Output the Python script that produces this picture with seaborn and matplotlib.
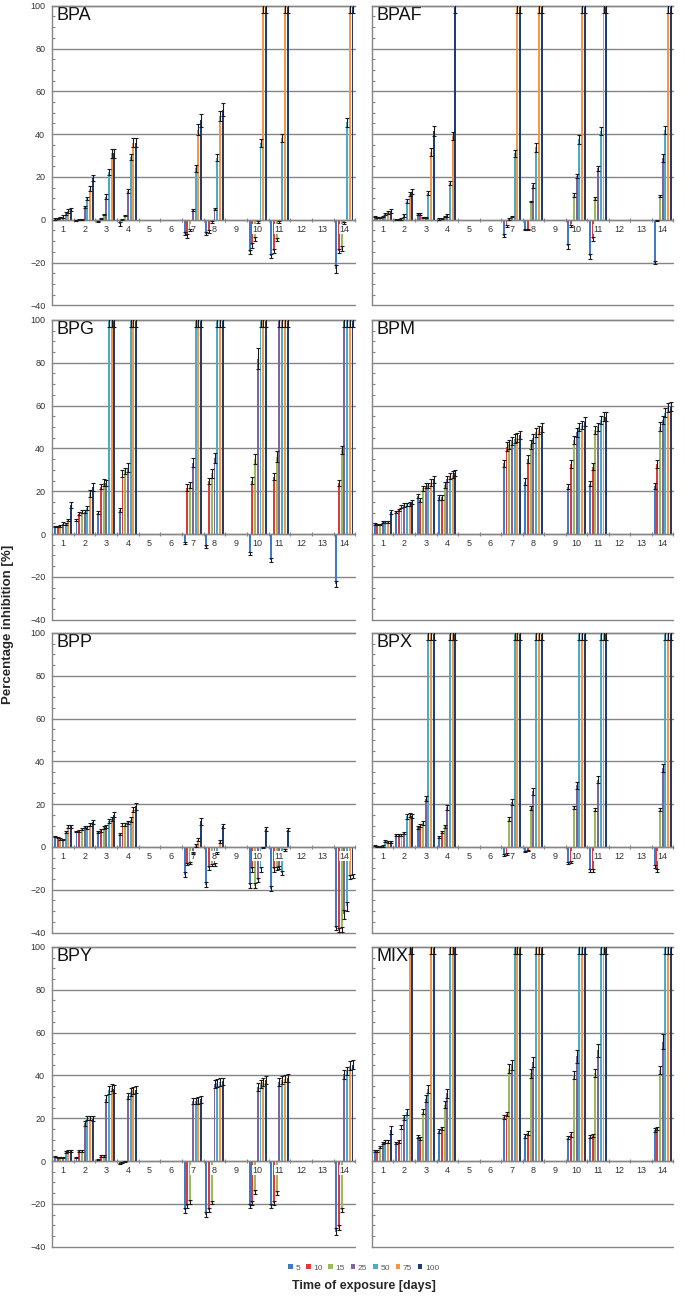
import numpy as np
import pandas as pd
import matplotlib
matplotlib.use("Agg")
import matplotlib.pyplot as plt
import seaborn as sns
from matplotlib.ticker import MultipleLocator, FixedLocator
from matplotlib.patches import Patch
from matplotlib.container import BarContainer

# ---------------- data ----------------
DAYS = [1, 2, 3, 4, 7, 8, 10, 11, 14]
ALL_DAYS = list(range(1, 15))
CONCS = ["5", "10", "15", "25", "50", "75", "100"]
COLORS = ["#3F7ACB", "#DE3A36", "#9BBB59", "#8064A2", "#4BACC6", "#F79646", "#1F3C74"]

BPA = [
    [0.3, 0.5, 1.0, 1.5, 3.0, 4.0, 4.8],
    [-0.5, 0.0, 0.2, 6.0, 10.0, 14.5, 19.5],
    [-0.8, 0.5, 2.5, 10.8, 22.3, 31.0, 31.0],
    [-2.0, 0.2, 2.0, 13.3, 29.2, 36.0, 36.0],
    [-6.5, -7.5, -5.0, 4.7, 24.0, 42.0, 46.5],
    [-6.5, -5.5, -1.0, 5.0, 29.0, 48.5, 51.5],
    [-15.0, -12.0, -9.0, -1.0, 35.8, 100, 100],
    [-17.0, -14.5, -9.3, -1.0, 38.2, 100, 100],
    [-23.0, -14.5, -13.5, -1.5, 45.5, 100, 100],
]
BPA_ERR = [
    [0.3, 0.3, 0.4, 0.5, 0.6, 0.8, 0.8],
    [0.3, 0.2, 0.2, 0.5, 0.8, 1.2, 1.5],
    [0.4, 0.3, 0.4, 1.0, 1.2, 2.0, 2.0],
    [0.8, 0.3, 0.4, 1.0, 1.5, 2.0, 2.0],
    [0.8, 1.0, 0.5, 0.4, 1.5, 2.5, 3.0],
    [0.6, 0.5, 0.3, 0.5, 1.5, 2.5, 3.0],
    [1.0, 1.0, 0.8, 0.3, 2.0, 3.5, 3.5],
    [1.0, 1.0, 0.8, 0.3, 2.0, 3.5, 3.5],
    [2.0, 1.0, 1.0, 0.3, 2.0, 3.5, 3.5],
]

BPAF = [
    [1.5, 1.0, 1.0, 1.5, 2.5, 3.5, 4.0],
    [0.0, 0.0, 0.3, 2.0, 8.8, 12.0, 13.0],
    [2.8, 2.8, 1.0, 1.0, 12.5, 31.8, 41.5],
    [0.4, 0.7, 1.5, 2.0, 17.0, 39.0, 100],
    [-7.5, -3.0, 0.5, 1.5, 31.0, 100, 100],
    [-4.5, -4.5, 8.5, 16.0, 33.8, 100, 100],
    [-12.5, -3.0, 11.5, 20.5, 37.5, 100, 100],
    [-17.0, -9.0, 10.0, 24.0, 41.5, 100, 100],
    [-20.0, -0.5, 11.0, 29.0, 42.0, 100, 100],
]
BPAF_ERR = [
    [0.4, 0.3, 0.3, 0.4, 0.5, 0.8, 0.8],
    [0.2, 0.2, 0.3, 0.5, 0.8, 1.0, 1.2],
    [0.5, 0.5, 0.4, 0.4, 0.8, 1.8, 2.2],
    [0.3, 0.3, 0.4, 0.5, 1.0, 1.8, 3.5],
    [0.8, 0.6, 0.4, 0.4, 1.5, 3.5, 3.5],
    [0.4, 0.4, 0.4, 1.0, 2.0, 3.5, 3.5],
    [1.0, 0.6, 0.8, 1.0, 2.2, 3.5, 3.5],
    [1.2, 0.8, 0.6, 1.0, 2.0, 3.5, 3.5],
    [0.8, 0.3, 0.6, 1.8, 2.0, 3.5, 3.5],
]

BPG = [
    [3.5, 3.5, 3.8, 4.8, 4.8, 6.5, 13.5],
    [6.5, 9.5, 10.5, 10.5, 12.0, 19.0, 22.0],
    [10.0, 22.0, 24.0, 23.7, 100, 100, 100],
    [11.3, 28.3, 29.4, 31.0, 100, 100, 100],
    [-4.4, 21.7, 22.9, 33.3, 100, 100, 100],
    [-5.9, 24.8, 28.3, 35.5, 100, 100, 100],
    [-9.0, 25.0, 35.0, 82.0, 100, 100, 100],
    [-12.1, 26.8, 36.1, 100, 100, 100, 100],
    [-23.4, 23.7, 39.3, 100, 100, 100, 100],
]
BPG_ERR = [
    [0.4, 0.4, 0.4, 0.6, 0.5, 0.6, 1.5],
    [0.5, 0.8, 0.8, 0.8, 1.0, 1.5, 2.0],
    [0.6, 1.2, 1.5, 1.5, 3.5, 3.5, 3.5],
    [0.8, 1.5, 1.5, 2.0, 3.5, 3.5, 3.5],
    [0.5, 1.5, 1.5, 2.0, 3.5, 3.5, 3.5],
    [0.6, 1.5, 2.0, 2.5, 3.5, 3.5, 3.5],
    [0.8, 1.5, 2.5, 5.0, 3.5, 3.5, 3.5],
    [0.8, 1.5, 2.5, 3.5, 3.5, 3.5, 3.5],
    [1.5, 1.5, 2.0, 3.5, 3.5, 3.5, 3.5],
]

BPM = [
    [4.8, 4.5, 4.5, 5.6, 5.6, 5.6, 10.4],
    [10.4, 11.3, 12.8, 13.5, 13.8, 14.2, 14.8],
    [17.8, 15.9, 21.3, 22.5, 22.8, 24.0, 25.5],
    [17.1, 17.1, 22.9, 25.7, 27.2, 27.8, 28.5],
    [33.0, 40.8, 41.9, 43.5, 44.5, 45.0, 46.3],
    [24.5, 35.0, 41.9, 44.7, 47.5, 48.5, 49.8],
    [22.1, 32.6, 43.9, 47.5, 50.0, 51.0, 52.5],
    [23.4, 31.5, 48.6, 50.0, 53.3, 54.8, 54.8],
    [22.4, 32.6, 50.2, 53.3, 56.7, 59.2, 59.5],
]
BPM_ERR = [
    [0.4, 0.4, 0.4, 0.5, 0.5, 0.5, 1.0],
    [0.5, 0.6, 0.8, 0.8, 0.8, 0.9, 1.0],
    [1.0, 1.0, 1.2, 1.2, 1.2, 1.5, 1.5],
    [1.0, 1.0, 1.2, 1.5, 1.5, 1.5, 1.5],
    [1.8, 2.0, 2.0, 2.0, 2.0, 2.0, 2.0],
    [1.5, 1.8, 2.0, 2.0, 2.0, 2.0, 2.0],
    [1.2, 1.8, 2.0, 2.0, 2.0, 2.0, 2.0],
    [1.2, 1.8, 2.0, 2.0, 2.0, 2.0, 2.0],
    [1.2, 1.8, 2.0, 2.0, 2.0, 2.0, 2.0],
]

BPP = [
    [5.0, 4.5, 3.7, 3.5, 6.9, 9.5, 9.7],
    [7.3, 7.5, 8.5, 9.2, 9.2, 10.5, 11.7],
    [7.0, 7.8, 9.2, 9.5, 12.0, 13.0, 15.1],
    [6.0, 10.4, 10.5, 11.5, 12.8, 17.4, 19.0],
    [-13.0, -8.0, -7.5, -3.0, 0.7, 3.5, 12.0],
    [-17.6, -9.8, -8.5, -8.2, -3.0, 2.6, 9.7],
    [-17.8, -10.5, -18.0, -15.5, -10.5, -0.3, 8.4],
    [-19.5, -10.5, -10.0, -9.5, -12.0, -1.5, 8.1],
    [-38.0, -38.8, -38.5, -31.5, -27.7, -14.0, -13.5],
]
BPP_ERR = [
    [0.3, 0.3, 0.4, 0.4, 0.5, 0.6, 0.6],
    [0.4, 0.4, 0.5, 0.5, 0.6, 0.8, 1.0],
    [0.5, 0.6, 0.6, 0.8, 1.0, 1.0, 1.2],
    [0.5, 0.6, 0.6, 0.8, 1.0, 1.2, 1.5],
    [1.2, 0.6, 0.6, 0.5, 0.5, 0.8, 1.5],
    [1.2, 0.8, 0.6, 0.6, 0.5, 0.6, 1.0],
    [1.2, 1.0, 1.2, 1.0, 1.0, 0.3, 0.8],
    [1.2, 1.0, 0.8, 0.8, 1.0, 0.4, 0.8],
    [1.0, 1.0, 1.0, 2.0, 2.0, 1.0, 1.0],
]

BPX = [
    [0.6, 0.3, 0.3, 0.5, 3.0, 2.5, 2.2],
    [5.5, 5.5, 5.6, 6.5, 14.3, 15.0, 14.5],
    [9.2, 10.0, 11.2, 22.6, 100, 100, 100],
    [4.7, 7.0, 9.7, 18.5, 100, 100, 100],
    [-3.6, -3.4, 13.1, 21.0, 100, 100, 100],
    [-2.0, -1.5, 18.2, 26.0, 100, 100, 100],
    [-7.5, -7.0, 18.5, 28.8, 100, 100, 100],
    [-10.9, -10.9, 17.4, 31.5, 100, 100, 100],
    [-9.0, -10.9, 17.5, 36.9, 100, 100, 100],
]
BPX_ERR = [
    [0.3, 0.2, 0.2, 0.3, 0.5, 0.5, 0.5],
    [0.4, 0.4, 0.4, 0.5, 1.0, 1.0, 1.0],
    [0.6, 0.6, 0.8, 1.2, 3.5, 3.5, 3.5],
    [0.5, 0.6, 0.6, 1.0, 3.5, 3.5, 3.5],
    [0.4, 0.4, 0.8, 1.2, 3.5, 3.5, 3.5],
    [0.3, 0.3, 1.0, 1.5, 3.5, 3.5, 3.5],
    [0.4, 0.4, 0.8, 1.5, 3.5, 3.5, 3.5],
    [0.6, 0.6, 0.8, 1.5, 3.5, 3.5, 3.5],
    [0.6, 0.6, 0.8, 1.8, 3.5, 3.5, 3.5],
]

BPY = [
    [2.0, 1.5, 1.5, 1.5, 4.4, 4.5, 4.5],
    [1.6, 4.7, 4.7, 17.6, 20.2, 20.0, 19.8],
    [0.8, 2.3, 2.3, 29.2, 33.1, 34.3, 33.5],
    [-1.0, -0.6, -0.3, 30.3, 32.3, 33.0, 33.4],
    [-23.0, -21.0, -19.0, 28.0, 28.0, 28.3, 28.8],
    [-25.0, -23.0, -19.5, 35.9, 36.3, 37.0, 37.2],
    [-21.0, -19.5, -14.5, 34.7, 36.0, 37.0, 37.8],
    [-21.0, -19.5, -15.0, 37.0, 38.0, 38.5, 38.8],
    [-33.0, -31.0, -23.0, 40.5, 42.0, 44.5, 45.0],
]
BPY_ERR = [
    [0.3, 0.3, 0.3, 0.3, 0.5, 0.5, 0.5],
    [0.3, 0.5, 0.5, 1.2, 1.0, 1.0, 1.0],
    [0.3, 0.5, 0.5, 1.5, 1.8, 1.8, 1.8],
    [0.3, 0.3, 0.3, 1.5, 1.8, 1.8, 1.8],
    [1.2, 1.0, 1.0, 1.5, 1.5, 1.5, 1.5],
    [1.2, 1.0, 0.8, 1.8, 1.8, 1.8, 1.8],
    [1.0, 1.0, 0.8, 1.8, 1.8, 1.8, 1.8],
    [1.0, 1.0, 0.8, 1.8, 1.8, 1.8, 1.8],
    [1.5, 1.2, 1.0, 2.0, 2.0, 2.0, 2.0],
]

MIX = [
    [4.8, 4.6, 6.5, 8.5, 9.0, 9.0, 14.5],
    [8.6, 9.2, 16.0, 20.4, 23.0, 100, 100],
    [11.4, 10.5, 23.0, 29.2, 33.6, 100, 100],
    [14.0, 15.2, 26.4, 31.6, 100, 100, 100],
    [20.7, 21.8, 43.2, 44.8, 100, 100, 100],
    [11.7, 13.2, 40.9, 46.3, 100, 100, 100],
    [10.9, 12.4, 40.1, 49.0, 100, 100, 100],
    [11.4, 11.8, 41.2, 51.8, 100, 100, 100],
    [14.5, 15.2, 42.5, 55.7, 100, 100, 100],
]
MIX_ERR = [
    [0.4, 0.4, 0.5, 0.6, 0.6, 0.6, 1.8],
    [0.5, 0.6, 1.0, 1.2, 1.5, 3.5, 3.5],
    [0.6, 0.6, 1.2, 1.5, 2.0, 3.5, 3.5],
    [0.8, 0.8, 1.5, 2.0, 3.5, 3.5, 3.5],
    [1.0, 1.0, 2.0, 2.5, 3.5, 3.5, 3.5],
    [0.8, 1.0, 2.0, 2.5, 3.5, 3.5, 3.5],
    [0.8, 1.0, 2.0, 3.0, 3.5, 3.5, 3.5],
    [0.8, 0.8, 2.0, 3.0, 3.5, 3.5, 3.5],
    [0.8, 0.8, 2.0, 3.5, 3.5, 3.5, 3.5],
]

PANELS = [
    ("BPA", BPA, BPA_ERR), ("BPAF", BPAF, BPAF_ERR),
    ("BPG", BPG, BPG_ERR), ("BPM", BPM, BPM_ERR),
    ("BPP", BPP, BPP_ERR), ("BPX", BPX, BPX_ERR),
    ("BPY", BPY, BPY_ERR), ("MIX", MIX, MIX_ERR),
]

# ---------------- style ----------------
sns.set_theme(style="white")
plt.rcParams["font.family"] = ["Liberation Sans", "DejaVu Sans"]
GRID = "#858585"

fig = plt.figure(figsize=(6.85, 12.96), dpi=100)

ROW_BOTTOMS = [0.7644, 0.5219, 0.2804, 0.0381]
ROW_H = 0.2312
COL_LEFTS = [0.0762, 0.5429]
COL_W = [0.4423, 0.4403]
YTICKS = list(range(-40, 101, 20))

for idx, (name, vals, errs) in enumerate(PANELS):
    r, c = divmod(idx, 2)
    ax = fig.add_axes([COL_LEFTS[c], ROW_BOTTOMS[r], COL_W[c], ROW_H])

    recs = []
    lookup = {}
    for di, d in enumerate(DAYS):
        for ci, cc in enumerate(CONCS):
            recs.append({"day": d, "conc": cc, "value": vals[di][ci]})
            lookup[(d, cc)] = (vals[di][ci], errs[di][ci])
    df = pd.DataFrame(recs)

    sns.barplot(data=df, x="day", y="value", hue="conc", order=ALL_DAYS,
                hue_order=CONCS, palette=COLORS, width=0.88, gap=0.28,
                errorbar=None, saturation=1, legend=False, ax=ax,
                zorder=2, linewidth=0)

    bar_conts = [cn for cn in ax.containers if isinstance(cn, BarContainer)]
    for ci, cont in enumerate(bar_conts):
        for bar in cont.patches:
            bar.set_antialiased(False)
            xc = bar.get_x() + bar.get_width() / 2
            day = ALL_DAYS[int(round(xc))]
            v, e = lookup[(day, CONCS[ci])]
            ax.errorbar(xc, v, yerr=e, fmt="none", ecolor="#1a1a1a",
                        elinewidth=0.8, capsize=1.6, capthick=0.8, zorder=3)

    ax.set_xlim(-0.5, 13.5)
    ax.set_ylim(-40, 100)
    ax.set_yticks(YTICKS)
    ax.yaxis.set_minor_locator(MultipleLocator(5))
    ax.grid(False)
    for yv in YTICKS:
        ax.axhline(yv, color=GRID, linewidth=1.0, zorder=0.5, clip_on=False)
    ax.set_axisbelow(False)
    ax.set_xlabel("")
    ax.set_ylabel("")

    for s in ["left", "top", "bottom"]:
        ax.spines[s].set_visible(True)
        ax.spines[s].set_color(GRID)
        ax.spines[s].set_linewidth(1.0)
    ax.spines["right"].set_visible(False)
    ax.spines["bottom"].set_position(("data", 0))

    ax.xaxis.set_minor_locator(FixedLocator(np.arange(-0.5, 13.6, 1.0)))
    ax.tick_params(axis="x", which="major", length=0, labelsize=6.5,
                   pad=3.5, labelcolor="#333333")
    ax.tick_params(axis="x", which="minor", length=2.5, direction="inout",
                   color=GRID, width=0.8, bottom=True)
    ax.tick_params(axis="y", which="major", length=0, labelsize=6.5,
                   pad=5, labelcolor="#333333", left=True)
    ax.tick_params(axis="y", which="minor", length=2.5, direction="in",
                   color=GRID, width=0.8, left=True)
    for lbl in ax.get_xticklabels():
        lbl.set_bbox(dict(facecolor="white", edgecolor="none", pad=0.4))
    if c == 1:
        ax.tick_params(axis="y", labelleft=False)

    ax.text(0.014, 0.997, name, transform=ax.transAxes, ha="left", va="top",
            fontsize=13, color="#111111", zorder=1)

fig.text(0.011, 0.5185, "Percentage inhibition [%]", rotation=90,
         ha="center", va="center", fontsize=9.5, fontweight="bold")
fig.text(0.531, 1 - 1286 / 1296, "Time of exposure [days]", ha="center",
         va="center", fontsize=9, fontweight="bold")

handles = [Patch(facecolor=col, edgecolor="none") for col in COLORS]
fig.legend(handles, CONCS, loc="center", bbox_to_anchor=(0.531, 1 - 1268 / 1296),
           ncol=7, frameon=False, fontsize=6, handlelength=0.55,
           handleheight=0.55, handletextpad=0.3, columnspacing=0.7,
           labelcolor="#595959")

fig.savefig("out.png", dpi=100)
